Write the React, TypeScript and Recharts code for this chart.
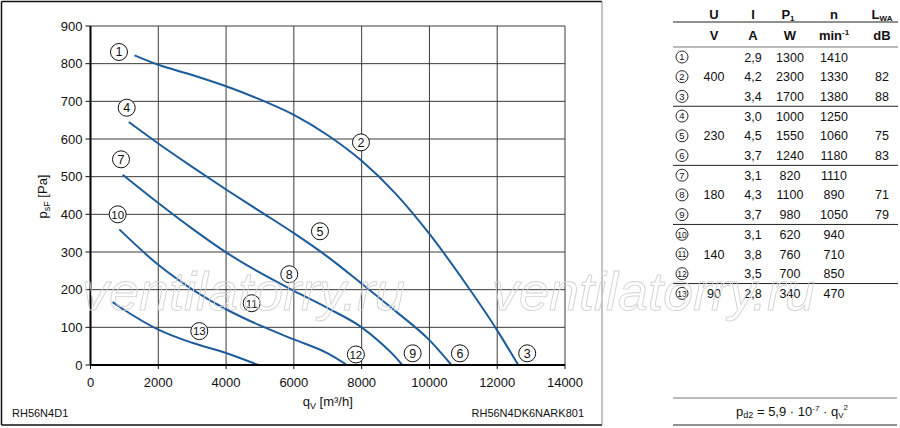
import { ComposedChart, Line, Scatter, XAxis, YAxis, CartesianGrid } from 'recharts'

const FONT = '"Liberation Sans", Arial, Helvetica, sans-serif'
const BLUE = '#1d5c9b'

const xTicks = [0, 2000, 4000, 6000, 8000, 10000, 12000, 14000]
const yTicks = [0, 100, 200, 300, 400, 500, 600, 700, 800, 900]

// fan curves, [q m³/h, p Pa]
const curve1 = [[1300, 822], [2000, 797], [3000, 770], [4000, 740], [5000, 705], [6000, 664], [7000, 610], [8000, 542], [9000, 455], [10000, 348], [11000, 225], [12000, 92], [12620, 0]]
const curve4 = [[1130, 645], [2000, 588], [3000, 526], [4000, 466], [5000, 408], [6000, 350], [7000, 287], [8000, 216], [9000, 143], [10000, 66], [10650, 0]]
const curve7 = [[950, 505], [2000, 430], [3000, 362], [4000, 299], [5000, 245], [6000, 197], [7000, 151], [8000, 100], [8500, 64], [9000, 21], [9200, 0]]
const curve10 = [[850, 360], [2000, 266], [3000, 201], [4000, 148], [5000, 105], [6000, 68], [7000, 31], [7570, 0]]
const curve13 = [[650, 167], [1000, 146], [2000, 94], [3000, 59], [4000, 32], [4950, 0]]

const curves = [curve1, curve4, curve7, curve10, curve13]

// circled markers on the chart
const markerQ = [840, 7980, 12885, 1068, 6770, 10900, 900, 5865, 9505, 802, 4755, 7830, 3210]
const markerP = [831, 591, 31, 683, 355, 31, 546, 241, 31, 400, 164, 28, 90]

// table
const rowNums = ['1', '2', '3', '4', '5', '6', '7', '8', '9', '10', '11', '12', '13']
const voltage = ['', '400', '', '', '230', '', '', '180', '', '', '140', '', '90']
const current = ['2,9', '4,2', '3,4', '3,0', '4,5', '3,7', '3,1', '4,3', '3,7', '3,1', '3,8', '3,5', '2,8']
const power = ['1300', '2300', '1700', '1000', '1550', '1240', '820', '1100', '980', '620', '760', '700', '340']
const speed = ['1410', '1330', '1380', '1250', '1060', '1180', '1110', '890', '1050', '940', '710', '850', '470']
const noise = ['', '82', '88', '', '75', '83', '', '71', '79', '', '', '', '']
const groupEnds = [3, 6, 9, 12]

const markers = markerQ.map((q, i) => ({ q, p: markerP[i], n: rowNums[i] }))

function Marker(props: any) {
  const { cx, cy, payload } = props
  if (cx == null || cy == null) return null
  return (
    <g>
      <circle cx={cx} cy={cy} r={8.5} fill="#fff" stroke="#111" strokeWidth={1} />
      <text x={cx} y={cy + 4.3} textAnchor="middle" fontSize={payload.n.length > 1 ? 11.5 : 12.5} fontFamily={FONT} fill="#111">
        {payload.n}
      </text>
    </g>
  )
}

function YTitle(props: any) {
  const vb = props.viewBox || { x: 30, y: 26, height: 339 }
  const cx = 46.5
  const cy = vb.y + vb.height / 2 + 1
  return (
    <text transform={`translate(${cx},${cy}) rotate(-90)`} textAnchor="middle" fontSize={13} fontFamily={FONT} fill="#111">
      p<tspan fontSize={9} dy={3}>sF</tspan>
      <tspan dy={-3}> [Pa]</tspan>
    </text>
  )
}

function XTitle(props: any) {
  const vb = props.viewBox || { x: 90, width: 475 }
  const cx = vb.x + vb.width / 2
  return (
    <text x={cx} y={406} textAnchor="middle" fontSize={13} fontFamily={FONT} fill="#111">
      q<tspan fontSize={9} dy={3}>V</tspan>
      <tspan dy={-3}> [m³/h]</tspan>
    </text>
  )
}

const colU = 714
const colI = 753
const colP = 790
const colN = 834
const colL = 882
const rowY = (i: number) => 57 + 19.7 * i

function Table() {
  const hdr = { fontSize: 13, fontWeight: 700, fontFamily: FONT, fill: '#111', textAnchor: 'middle' as const }
  const cell = { fontSize: 12.5, fontFamily: FONT, fill: '#111', textAnchor: 'middle' as const }
  return (
    <g>
      <text x={colU} y={18.5} {...hdr}>U</text>
      <text x={colI} y={18.5} {...hdr}>I</text>
      <text x={colP - 2} y={18.5} {...hdr}>P<tspan fontSize={8} dy={2}>1</tspan></text>
      <text x={colN} y={18.5} {...hdr}>n</text>
      <text x={colL} y={18.5} {...hdr}>L<tspan fontSize={8} dy={2}>WA</tspan></text>
      <line x1={673} x2={898} y1={22} y2={22} stroke="#222" strokeWidth={1} />
      <text x={colU} y={40} {...hdr}>V</text>
      <text x={colI} y={40} {...hdr}>A</text>
      <text x={colP} y={40} {...hdr}>W</text>
      <text x={colN} y={40} {...hdr}>min<tspan fontSize={8} dy={-5}>-1</tspan></text>
      <text x={colL} y={40} {...hdr}>dB</text>
      <line x1={673} x2={898} y1={47} y2={47} stroke="#777" strokeWidth={1} />
      {rowNums.map((n, i) => {
        const y = rowY(i)
        return (
          <g key={n}>
            <circle cx={682} cy={y} r={6} fill="#fff" stroke="#111" strokeWidth={0.9} />
            <text x={682} y={y + 3.3} textAnchor="middle" fontSize={n.length > 1 ? 8.5 : 9.5} fontFamily={FONT} fill="#111">{n}</text>
            <text x={colU} y={y + 4.5} {...cell}>{voltage[i]}</text>
            <text x={colI} y={y + 4.5} {...cell}>{current[i]}</text>
            <text x={colP} y={y + 4.5} {...cell}>{power[i]}</text>
            <text x={colN} y={y + 4.5} {...cell}>{speed[i]}</text>
            <text x={colL} y={y + 4.5} {...cell}>{noise[i]}</text>
          </g>
        )
      })}
      {groupEnds.map((g) => {
        const y = (rowY(g - 1) + rowY(g)) / 2
        return <line key={g} x1={673} x2={898} y1={y} y2={y} stroke="#222" strokeWidth={1} />
      })}
      <line x1={673} x2={897} y1={398} y2={398} stroke="#777" strokeWidth={1} />
      <text x={792} y={416} textAnchor="middle" fontSize={13} fontFamily={FONT} fill="#111">
        p<tspan fontSize={9} dy={2}>d2</tspan>
        <tspan dy={-2}> = 5,9 · 10</tspan>
        <tspan fontSize={8} dy={-5}>-7</tspan>
        <tspan dy={5}> · q</tspan>
        <tspan fontSize={8} dy={2}>V</tspan>
        <tspan fontSize={8} dy={-8}>2</tspan>
      </text>
      <line x1={673} x2={897} y1={425} y2={425} stroke="#222" strokeWidth={1} />
    </g>
  )
}

export default function App() {
  return (
    <div style={{ position: 'absolute', left: 0, top: 0, width: 900, height: 428, background: '#fff', fontFamily: FONT }}>
      <ComposedChart width={600} height={428} margin={{ top: 26, right: 35, left: 30.5, bottom: 33 }}>
        <CartesianGrid stroke="#3a3a3a" strokeWidth={1} horizontalValues={yTicks} verticalValues={xTicks} />
        <XAxis
          type="number"
          dataKey="q"
          domain={[0, 14000]}
          ticks={xTicks}
          allowDataOverflow
          height={30}
          tickSize={4}
          tickMargin={9}
          tick={{ fontSize: 13, fill: '#111', fontFamily: FONT }}
          tickLine={{ stroke: '#111' }}
          axisLine={{ stroke: '#000', strokeWidth: 2 }}
          label={<XTitle />}
        />
        <YAxis
          type="number"
          dataKey="p"
          domain={[0, 900]}
          ticks={yTicks}
          allowDataOverflow
          width={60}
          tickSize={5}
          tickMargin={3}
          tick={{ fontSize: 13, fill: '#111', fontFamily: FONT }}
          tickLine={{ stroke: '#111' }}
          axisLine={{ stroke: '#000', strokeWidth: 2 }}
          label={<YTitle />}
        />
        {curves.map((c, i) => (
          <Line
            key={i}
            data={c.map(([q, p]) => ({ q, p }))}
            dataKey="p"
            type="monotone"
            stroke={BLUE}
            strokeWidth={2}
            dot={false}
            activeDot={false}
            isAnimationActive={false}
          />
        ))}
        <Scatter data={markers} dataKey="p" shape={<Marker />} isAnimationActive={false} />
      </ComposedChart>
      <svg width={900} height={428} style={{ position: 'absolute', left: 0, top: 0, pointerEvents: 'none' }}>
        <line x1={1.5} x2={602} y1={1.5} y2={1.5} stroke="#111" strokeWidth={1.5} />
        <line x1={1.5} x2={1.5} y1={1.5} y2={425} stroke="#111" strokeWidth={1.5} />
        <line x1={1.5} x2={602} y1={425} y2={425} stroke="#111" strokeWidth={1.5} />
        <line x1={602} x2={602} y1={1.5} y2={425} stroke="#888" strokeWidth={1} />
        <text x={12} y={417} fontSize={11} fontFamily={FONT} fill="#111">RH56N4D1</text>
        <text x={584} y={417} textAnchor="end" fontSize={11} fontFamily={FONT} fill="#111">RH56N4DK6NARK801</text>
        <Table />
        <text x={82} y={310} fontSize={54} fontStyle="italic" fontFamily={FONT} fill="none" stroke="#d2d2d2" strokeWidth={0.9}>ventilatorry.ru</text>
        <text x={492} y={310} fontSize={54} fontStyle="italic" fontFamily={FONT} fill="none" stroke="#d2d2d2" strokeWidth={0.9}>ventilatorry.ru</text>
      </svg>
    </div>
  )
}
